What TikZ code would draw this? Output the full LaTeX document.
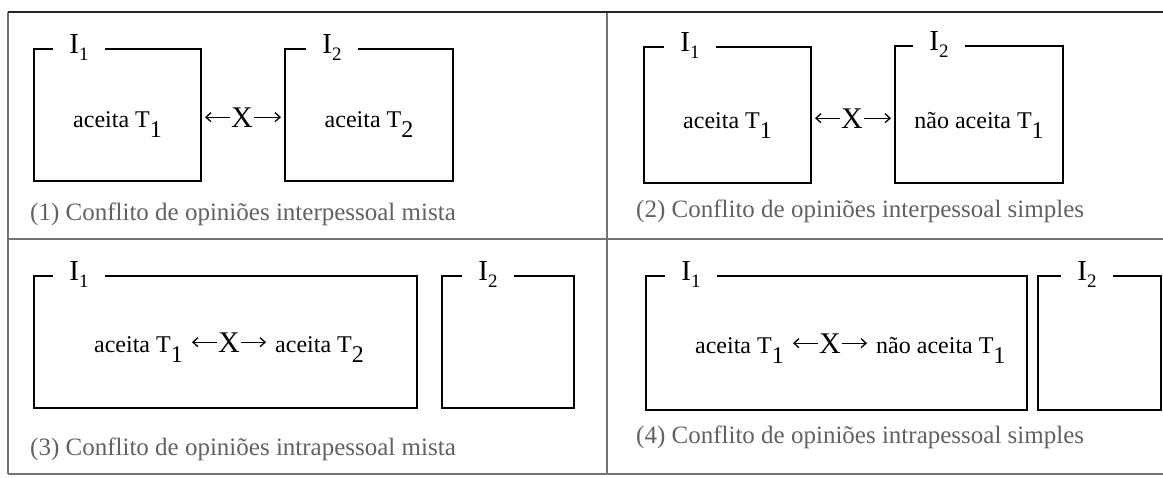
\documentclass[tikz,border=0pt]{standalone}
\usepackage{fontspec}
\setmainfont{Liberation Serif}
\usetikzlibrary{arrows.meta,calc,positioning}
\newcommand{\indice}[1]{\raisebox{-10pt}{#1}}
\newcommand{\indrot}[1]{\raisebox{-7pt}{\fontsize{19}{19}\selectfont #1}}

\begin{document}
\begin{tikzpicture}[
  x=1pt, y=-1pt,
  moldura/.style={draw=black!55, line width=1.3pt},
  caixa/.style={draw=black, line width=2pt, inner sep=0pt, anchor=north west},
  rotulo/.style={fill=white, inner xsep=16pt, inner ysep=1pt,
                 font=\fontsize{29}{29}\selectfont},
  texto/.style={font=\fontsize{24}{24}\selectfont, inner xsep=6pt, inner ysep=0pt},
  termo/.style={font=\fontsize{30}{30}\selectfont, inner xsep=1pt, inner ysep=0pt,
                anchor=base},
  seta/.style={-{Straight Barb[length=5pt,width=9pt]}, line width=1.3pt,
               shorten >=3pt},
  legenda/.style={anchor=west, inner sep=0pt, text=black!62,
                  font=\fontsize{25}{25}\selectfont}
]
\useasboundingbox (0,0) rectangle (1163,477);

% moldura
\draw[moldura] (8,239) -- (1163,239);
\draw[moldura] (8,474) -- (1163,474);
\draw[moldura] (8,12) -- (8,474);
\draw[moldura] (607,12) -- (607,474);
\draw[draw=black!85, line width=1.8pt] (8,12) -- (1163,12);

% (1) interpessoal mista
\node[caixa, minimum width=167pt, minimum height=132pt] (p1a) at (33,48) {};
\node[caixa, minimum width=168pt, minimum height=132pt] (p1b) at (284,48) {};
\node[rotulo] (r1a) at ($(p1a.north west)+(46,0)$) {I\indrot{1}};
\node[rotulo] (r1b) at ($(p1b.north west)+(48,0)$) {I\indrot{2}};
\node[texto, anchor=base] (t1a) at ($(p1a.north)+(0,79)$) {aceita T\indice{1}};
\node[texto, anchor=base] (t1b) at ($(p1b.north)+(0,79)$) {aceita T\indice{2}};
\node[termo] (x1) at (242,127) {X};
\draw[seta] (x1.west) -- (x1.west -| p1a.east);
\draw[seta] (x1.east) -- (x1.east -| p1b.west);
\node[legenda] (leg1) at (30,214) {(1) Conflito de opiniões interpessoal mista};

% (2) interpessoal simples
\node[caixa, minimum width=167pt, minimum height=136pt] (p2a) at (643,46) {};
\node[caixa, minimum width=168pt, minimum height=137pt] (p2b) at (894,45) {};
\node[rotulo] (r2a) at ($(p2a.north west)+(47,0)$) {I\indrot{1}};
\node[rotulo] (r2b) at ($(p2b.north west)+(45,0)$) {I\indrot{2}};
\node[texto, anchor=base] (t2a) at ($(p2a.north)+(0,82)$) {aceita T\indice{1}};
\node[texto, anchor=base] (t2b) at ($(p2b.north)+(0,83)$) {não aceita T\indice{1}};
\node[termo] (x2) at (852,128) {X};
\draw[seta] (x2.west) -- (x2.west -| p2a.east);
\draw[seta] (x2.east) -- (x2.east -| p2b.west);
\node[legenda] (leg2) at (636,211) {(2) Conflito de opiniões interpessoal simples};

% (3) intrapessoal mista
\node[caixa, minimum width=383pt, minimum height=132pt] (p3a) at (33,275) {};
\node[caixa, minimum width=132pt, minimum height=132pt] (p3b) at (441,275) {};
\node[rotulo] (r3a) at ($(p3a.north west)+(46,0)$) {I\indrot{1}};
\node[rotulo] (r3b) at ($(p3b.north west)+(47,0)$) {I\indrot{2}};
\node[termo] (x3) at (229,352) {X};
\node[texto, base left=28pt of x3] (t3a) {aceita T\indice{1}};
\node[texto, base right=28pt of x3] (t3b) {aceita T\indice{2}};
\draw[seta] (x3.west) -- (x3.west -| t3a.east);
\draw[seta] (x3.east) -- (x3.east -| t3b.west);
\node[legenda] (leg3) at (30,449) {(3) Conflito de opiniões intrapessoal mista};

% (4) intrapessoal simples
\node[caixa, minimum width=381pt, minimum height=134pt] (p4a) at (645,275) {};
\node[caixa, minimum width=123pt, minimum height=134pt] (p4b) at (1037,275) {};
\node[rotulo] (r4a) at ($(p4a.north west)+(46,0)$) {I\indrot{1}};
\node[rotulo] (r4b) at ($(p4b.north west)+(50,0)$) {I\indrot{2}};
\node[termo] (x4) at (830,353) {X};
\node[texto, base left=28pt of x4] (t4a) {aceita T\indice{1}};
\node[texto, base right=28pt of x4] (t4b) {não aceita T\indice{1}};
\draw[seta] (x4.west) -- (x4.west -| t4a.east);
\draw[seta] (x4.east) -- (x4.east -| t4b.west);
\node[legenda] (leg4) at (636,437) {(4) Conflito de opiniões intrapessoal simples};
\end{tikzpicture}
\end{document}
